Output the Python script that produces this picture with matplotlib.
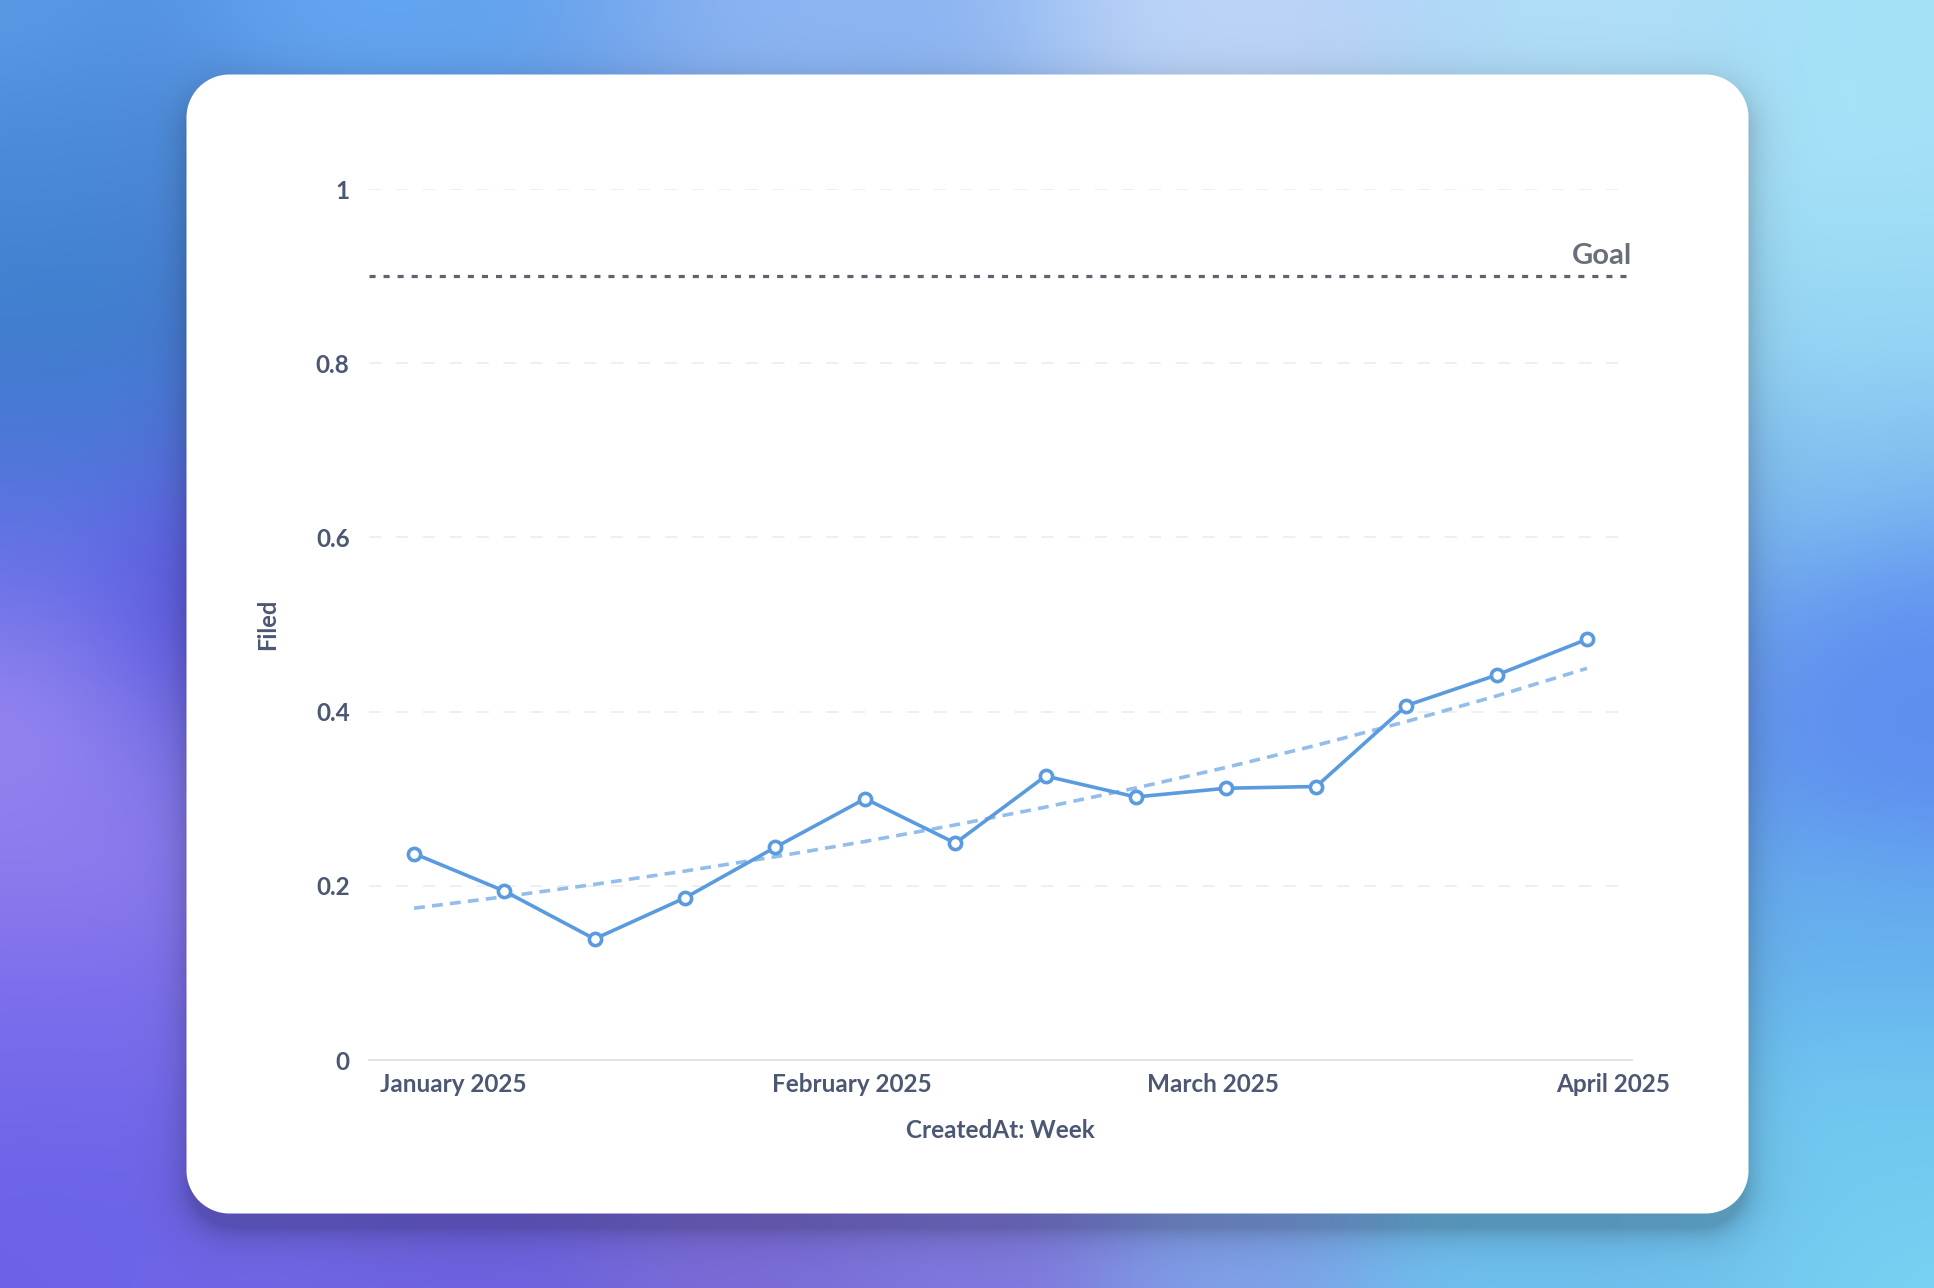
import numpy as np
import pandas as pd
import matplotlib
matplotlib.use('Agg')
import matplotlib.pyplot as plt

# data
week_start = ['2024-12-29', '2025-01-05', '2025-01-12', '2025-01-19', '2025-01-26',
              '2025-02-02', '2025-02-09', '2025-02-16', '2025-02-23', '2025-03-02',
              '2025-03-09', '2025-03-16', '2025-03-23', '2025-03-30']
filed = [0.237, 0.194, 0.139, 0.186, 0.244, 0.300, 0.249,
         0.326, 0.302, 0.312, 0.314, 0.407, 0.442, 0.483]
goal = 0.9
y_ticks = [0, 0.2, 0.4, 0.6, 0.8, 1]
y_tick_labels = ['0', '0.2', '0.4', '0.6', '0.8', '1']
x_ticks = ['2025-01-01', '2025-02-01', '2025-03-01', '2025-04-01']
x_tick_labels = ['January 2025', 'February 2025', 'March 2025', 'April 2025']

W, H = 1934, 1288
plt.rcParams['font.family'] = ['Lato', 'DejaVu Sans']

# %% background gradient + card
anchors = [
    (0, 0, '#5b9be6'), (300, 0, '#62a5f0'), (700, 20, '#8cb5f2'), (1000, 20, '#bcd4f8'),
    (1300, 20, '#b0def8'), (1568, 0, '#a4e2f8'),
    (40, 120, '#4a8ad8'), (60, 260, '#3d7fcc'), (60, 360, '#4a78d8'), (60, 460, '#6a70e8'),
    (20, 580, '#9585f0'), (60, 700, '#8d7cee'), (60, 820, '#7a6cec'), (60, 960, '#6c64e8'),
    (150, 480, '#5d58e0'),
    (0, 1044, '#6c62e6'), (400, 1030, '#6e62e0'), (600, 1030, '#7a6cd8'), (800, 1030, '#8078de'),
    (1000, 1030, '#80a0e8'), (1200, 1030, '#6ec0ee'), (1568, 1044, '#78d2f2'),
    (1500, 120, '#a6e2f8'), (1500, 260, '#98d8f4'), (1500, 400, '#80c0f0'), (1530, 500, '#6090f0'),
    (1530, 600, '#5e8cf0'), (1500, 760, '#66b0ee'), (1500, 900, '#70c8f0'),
    (784, 520, '#8899ee'),
]
s = W / 1568
f = 4  # compute colour field at low resolution, then blur and upsample
hl, wl = H // f + 1, W // f + 1
yl, xl = np.mgrid[0:hl, 0:wl].astype(float) * f
num = np.zeros((hl, wl, 3))
den = np.zeros((hl, wl))
for ax_, ay_, c in anchors:
    d2 = (xl - ax_ * s) ** 2 + (yl - ay_ * s) ** 2 + 400.0
    w = d2 ** -1.6
    num += w[..., None] * np.array(matplotlib.colors.to_rgb(c))
    den += w
low = num / den[..., None]


def box_blur(a, r):
    for axis in (0, 1):
        pad = [(0, 0)] * a.ndim
        pad[axis] = (r + 1, r)
        p = np.pad(a, pad, mode='edge')
        c = np.cumsum(p, axis=axis)
        n = a.shape[axis]
        a = (np.take(c, np.arange(2 * r + 1, 2 * r + 1 + n), axis=axis)
             - np.take(c, np.arange(0, n), axis=axis)) / (2 * r + 1)
    return a


for _ in range(3):
    low = box_blur(low, 12)

yi = np.arange(H) / f
xi = np.arange(W) / f
tmp = np.stack([np.stack([np.interp(xi, np.arange(wl), low[j, :, k]) for k in range(3)], -1)
                for j in range(hl)])
img = np.stack([np.stack([np.interp(yi, np.arange(hl), tmp[:, i, k]) for k in range(3)], -1)
                for i in range(W)], 1)

yy, xx = np.mgrid[0:H, 0:W].astype(float)


def rrect_sdf(px, py, x0, y0, x1, y1, r):
    cx, cy = (x0 + x1) / 2, (y0 + y1) / 2
    bx, by = (x1 - x0) / 2, (y1 - y0) / 2
    qx = np.abs(px - cx) - bx + r
    qy = np.abs(py - cy) - by + r
    outside = np.hypot(np.maximum(qx, 0), np.maximum(qy, 0))
    inside = np.minimum(np.maximum(qx, qy), 0)
    return outside + inside - r


card = (186, 74, 1748, 1213)
d_sh = rrect_sdf(xx, yy, card[0] + 4, card[1] + 16, card[2] - 4, card[3] + 14, 43)
shadow = 0.22 * np.exp(-np.maximum(d_sh, 0) / 16.0)
img = img * (1 - shadow[..., None])
d_card = rrect_sdf(xx, yy, *card, 43)
a = np.clip(0.5 - d_card, 0, 1)[..., None]
img = img * (1 - a) + a

fig = plt.figure(figsize=(W / 100, H / 100), dpi=100)
bg = fig.add_axes([0, 0, 1, 1])
bg.imshow(np.clip(img, 0, 1), extent=(0, W, H, 0), aspect='auto', interpolation='nearest')
bg.set_axis_off()

# %% chart
x = pd.to_datetime(week_start)
y = np.array(filed)

# exponential trend line
t = np.arange(len(y))
k, b = np.polyfit(t, np.log(y), 1)
trend = np.exp(b + k * t)

ax = fig.add_axes([369 / W, 1 - 1060 / H, (1632 - 369) / W, (1060 - 189) / H])
ax.set_facecolor('none')

text_col = '#4c5773'
ax.plot(x, trend, color='#93bdea', lw=2.6, ls=(0, (3, 2)), zorder=3)
ax.plot(x, y, color='#5a9be0', lw=2.6, marker='o', ms=8.8, mfc='white',
        mec='#5a9be0', mew=2.6, zorder=4)
ax.axhline(goal, color='#5f6371', lw=2.3, ls=(0, (1.9, 2.5)), zorder=2)
ax.annotate('Goal', xy=(1, goal), xycoords=('axes fraction', 'data'),
            xytext=(0, 5), textcoords='offset points', ha='right', va='bottom',
            fontsize=21, fontweight='bold', color='#696e7b')

ax.set_xlim(x[0] - pd.Timedelta(days=3.5), x[-1] + pd.Timedelta(days=3.5))
ax.set_ylim(0, 1)
ax.set_xticks(pd.to_datetime(x_ticks))
ax.set_xticklabels(x_tick_labels)
ax.set_yticks(y_ticks)
ax.set_yticklabels(y_tick_labels)
ax.tick_params(length=0, labelsize=17.5, labelcolor=text_col)
ax.tick_params(axis='x', pad=9)
ax.tick_params(axis='y', pad=14)
for lab in ax.get_xticklabels() + ax.get_yticklabels():
    lab.set_fontweight('bold')

ax.yaxis.grid(True, color='#ebebed', lw=1.1, ls=(0, (8, 9.6)))
ax.set_axisbelow(True)
for side in ['top', 'right', 'left']:
    ax.spines[side].set_visible(False)
ax.spines['bottom'].set_color('#e4e4e7')
ax.spines['bottom'].set_linewidth(1.5)

ax.set_xlabel('CreatedAt: Week', fontsize=17.5, fontweight='bold', color=text_col, va='center')
ax.xaxis.set_label_coords(0.5, -0.0815)
ax.set_ylabel('Filed', fontsize=17, fontweight='bold', color=text_col, va='center')
ax.yaxis.set_label_coords(-0.080, 0.5)

fig.savefig('out.png', dpi=100)
